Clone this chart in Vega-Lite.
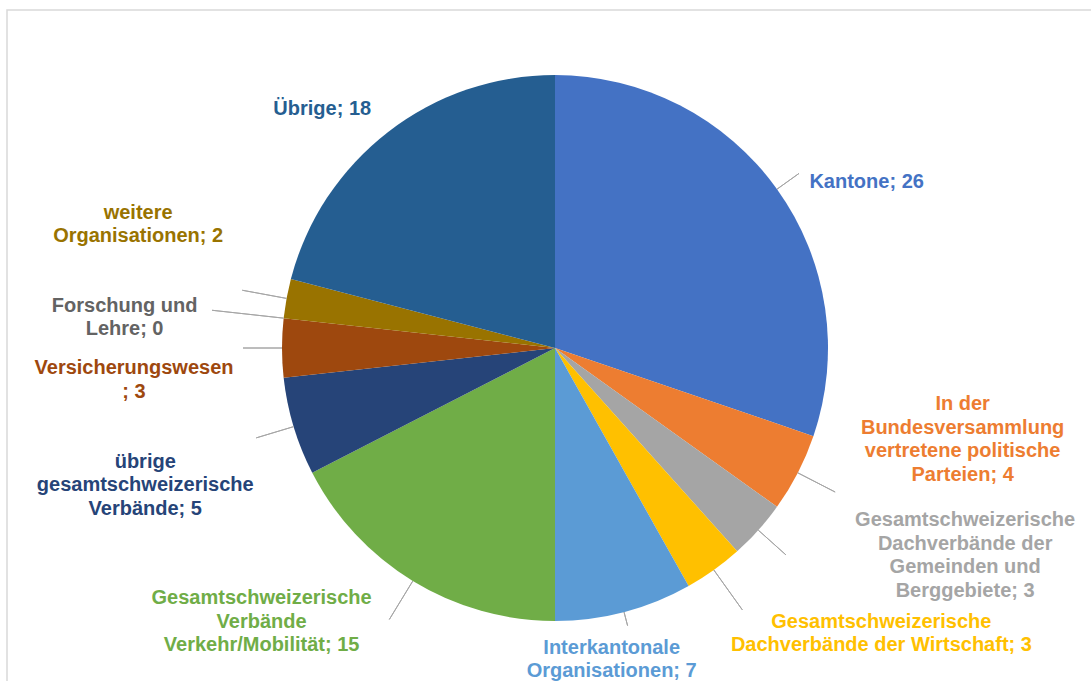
{
  "$schema": "https://vega.github.io/schema/vega-lite/v6.json",
  "width": 1096,
  "height": 676,
  "autosize": {"type": "none"},
  "padding": {"left": 7, "top": 10, "right": 0, "bottom": 0},
  "background": "white",
  "config": {
    "view": {"stroke": null},
    "text": {"font": "Liberation Sans", "fontWeight": "bold", "fontSize": 20, "lineHeight": 23.5, "align": "center", "baseline": "middle", "lineBreak": "\n"}
  },
  "data": {
    "values": [
      {"order": 1, "name": "Kantone", "value": 26},
      {"order": 2, "name": "In der\nBundesversammlung\nvertretene politische\nParteien", "value": 4},
      {"order": 3, "name": "Gesamtschweizerische\nDachverbände der\nGemeinden und\nBerggebiete", "value": 3},
      {"order": 4, "name": "Gesamtschweizerische\nDachverbände der Wirtschaft", "value": 3},
      {"order": 5, "name": "Interkantonale\nOrganisationen", "value": 7},
      {"order": 6, "name": "Gesamtschweizerische\nVerbände\nVerkehr/Mobilität", "value": 15},
      {"order": 7, "name": "übrige\ngesamtschweizerische\nVerbände", "value": 5},
      {"order": 8, "name": "Versicherungswesen\n", "value": 3},
      {"order": 9, "name": "Forschung und\nLehre", "value": 0},
      {"order": 10, "name": "weitere\nOrganisationen", "value": 2},
      {"order": 11, "name": "Übrige", "value": 18}
    ]
  },
  "transform": [
    {"window": [{"op": "sum", "field": "value", "as": "cum"}], "sort": [{"field": "order", "order": "ascending"}], "frame": [null, 0]},
    {"calculate": "datum.cum - datum.value / 2", "as": "mid"},
    {"calculate": "datum.name + '; ' + datum.value", "as": "label"}
  ],
  "encoding": {
    "color": {
      "field": "order", "type": "nominal", "legend": null,
      "scale": {
        "domain": [1, 2, 3, 4, 5, 6, 7, 8, 9, 10, 11],
        "range": ["#4472C4", "#ED7D31", "#A5A5A5", "#FFC000", "#5B9BD5", "#70AD47", "#264478", "#9E480E", "#636363", "#997300", "#255E91"]
      }
    }
  },
  "layer": [
    {
      "transform": [{"filter": "datum.order == 1"}],
      "mark": {"type": "rect", "fill": "transparent", "stroke": "#d9d9d9", "strokeWidth": 1.5},
      "encoding": {"color": {"value": "#d9d9d9"}}
    },
    {
      "mark": {"type": "arc", "outerRadius": 273},
      "encoding": {
        "theta": {"field": "value", "type": "quantitative", "stack": true},
        "order": {"field": "order", "type": "quantitative", "sort": "ascending"}
      }
    },
    {
      "transform": [{"filter": "datum.order == 1"}],
      "layer": [
        {"mark": {"type": "arc", "filled": false, "stroke": "#a6a6a6", "strokeWidth": 1, "innerRadius": 273, "outerRadius": 300},
         "encoding": {"theta": {"field": "mid", "type": "quantitative", "stack": null}, "theta2": {"field": "mid"}, "color": {"value": "#a6a6a6"}}},
        {"mark": {"type": "text", "radius": 350, "dx": 27, "dy": 38},
         "encoding": {"theta": {"field": "mid", "type": "quantitative", "stack": null}, "text": {"field": "label"}}}
      ]
    },
    {
      "transform": [{"filter": "datum.order == 2"}],
      "layer": [
        {"mark": {"type": "arc", "filled": false, "stroke": "#a6a6a6", "strokeWidth": 1, "innerRadius": 273, "outerRadius": 315},
         "encoding": {"theta": {"field": "mid", "type": "quantitative", "stack": null}, "theta2": {"field": "mid"}, "color": {"value": "#a6a6a6"}}},
        {"mark": {"type": "text", "radius": 410, "dx": 43, "dy": -131},
         "encoding": {"theta": {"field": "mid", "type": "quantitative", "stack": null}, "text": {"field": "label"}}}
      ]
    },
    {
      "transform": [{"filter": "datum.order == 3"}],
      "layer": [
        {"mark": {"type": "arc", "filled": false, "stroke": "#a6a6a6", "strokeWidth": 1, "innerRadius": 273, "outerRadius": 310},
         "encoding": {"theta": {"field": "mid", "type": "quantitative", "stack": null}, "theta2": {"field": "mid"}, "color": {"value": "#a6a6a6"}}},
        {"mark": {"type": "text", "radius": 450, "dx": 75, "dy": -128},
         "encoding": {"theta": {"field": "mid", "type": "quantitative", "stack": null}, "text": {"field": "label"}}}
      ]
    },
    {
      "transform": [{"filter": "datum.order == 4"}],
      "layer": [
        {"mark": {"type": "arc", "filled": false, "stroke": "#a6a6a6", "strokeWidth": 1, "innerRadius": 273, "outerRadius": 322},
         "encoding": {"theta": {"field": "mid", "type": "quantitative", "stack": null}, "theta2": {"field": "mid"}, "color": {"value": "#a6a6a6"}}},
        {"mark": {"type": "text", "radius": 420, "dx": 82, "dy": -68},
         "encoding": {"theta": {"field": "mid", "type": "quantitative", "stack": null}, "text": {"field": "label"}}}
      ]
    },
    {
      "transform": [{"filter": "datum.order == 5"}],
      "layer": [
        {"mark": {"type": "arc", "filled": false, "stroke": "#a6a6a6", "strokeWidth": 1, "innerRadius": 273, "outerRadius": 287},
         "encoding": {"theta": {"field": "mid", "type": "quantitative", "stack": null}, "theta2": {"field": "mid"}, "color": {"value": "#a6a6a6"}}},
        {"mark": {"type": "text", "radius": 315, "dx": -23, "dy": -5},
         "encoding": {"theta": {"field": "mid", "type": "quantitative", "stack": null}, "text": {"field": "label"}}}
      ]
    },
    {
      "transform": [{"filter": "datum.order == 6"}],
      "layer": [
        {"mark": {"type": "arc", "filled": false, "stroke": "#a6a6a6", "strokeWidth": 1, "innerRadius": 273, "outerRadius": 318},
         "encoding": {"theta": {"field": "mid", "type": "quantitative", "stack": null}, "theta2": {"field": "mid"}, "color": {"value": "#a6a6a6"}}},
        {"mark": {"type": "text", "radius": 400, "dx": -85, "dy": -91},
         "encoding": {"theta": {"field": "mid", "type": "quantitative", "stack": null}, "text": {"field": "label"}}}
      ]
    },
    {
      "transform": [{"filter": "datum.order == 7"}],
      "layer": [
        {"mark": {"type": "arc", "filled": false, "stroke": "#a6a6a6", "strokeWidth": 1, "innerRadius": 273, "outerRadius": 312},
         "encoding": {"theta": {"field": "mid", "type": "quantitative", "stack": null}, "theta2": {"field": "mid"}, "color": {"value": "#a6a6a6"}}},
        {"mark": {"type": "text", "radius": 430, "dx": 2, "dy": -10},
         "encoding": {"theta": {"field": "mid", "type": "quantitative", "stack": null}, "text": {"field": "label"}}}
      ]
    },
    {
      "transform": [{"filter": "datum.order == 8"}],
      "layer": [
        {"mark": {"type": "arc", "filled": false, "stroke": "#a6a6a6", "strokeWidth": 1, "innerRadius": 273, "outerRadius": 312},
         "encoding": {"theta": {"field": "mid", "type": "quantitative", "stack": null}, "theta2": {"field": "mid"}, "color": {"value": "#a6a6a6"}}},
        {"mark": {"type": "text", "radius": 420, "dx": -1, "dy": 20},
         "encoding": {"theta": {"field": "mid", "type": "quantitative", "stack": null}, "text": {"field": "label"}}}
      ]
    },
    {
      "transform": [{"filter": "datum.order == 9"}],
      "layer": [
        {"mark": {"type": "arc", "filled": false, "stroke": "#a6a6a6", "strokeWidth": 1, "innerRadius": 273, "outerRadius": 345},
         "encoding": {"theta": {"field": "mid", "type": "quantitative", "stack": null}, "theta2": {"field": "mid"}, "color": {"value": "#a6a6a6"}}},
        {"mark": {"type": "text", "radius": 430, "dx": -3, "dy": 5},
         "encoding": {"theta": {"field": "mid", "type": "quantitative", "stack": null}, "text": {"field": "label"}}}
      ]
    },
    {
      "transform": [{"filter": "datum.order == 10"}],
      "layer": [
        {"mark": {"type": "arc", "filled": false, "stroke": "#a6a6a6", "strokeWidth": 1, "innerRadius": 273, "outerRadius": 318},
         "encoding": {"theta": {"field": "mid", "type": "quantitative", "stack": null}, "theta2": {"field": "mid"}, "color": {"value": "#a6a6a6"}}},
        {"mark": {"type": "text", "radius": 430, "dx": 6, "dy": -57},
         "encoding": {"theta": {"field": "mid", "type": "quantitative", "stack": null}, "text": {"field": "label"}}}
      ]
    },
    {
      "transform": [{"filter": "datum.order == 11"}],
      "mark": {"type": "text", "radius": 335, "dx": -28, "dy": 26},
      "encoding": {"theta": {"field": "mid", "type": "quantitative", "stack": null}, "text": {"field": "label"}}
    }
  ]
}
